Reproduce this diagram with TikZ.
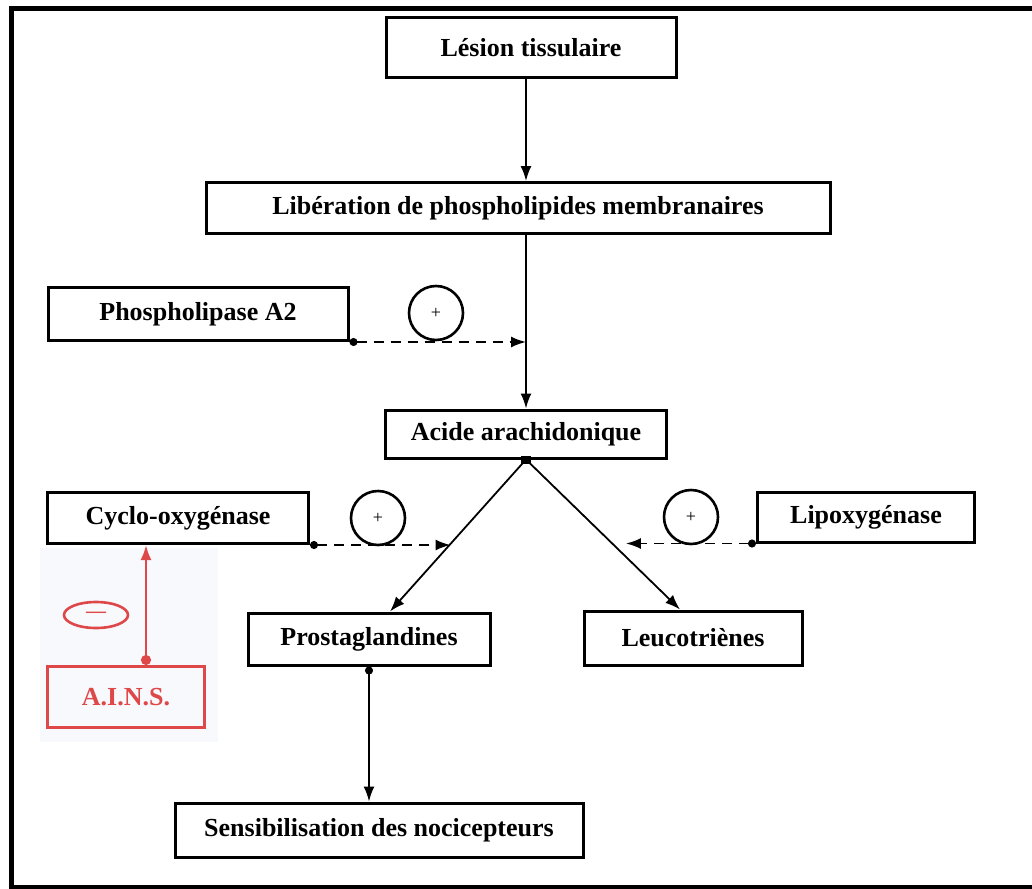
\documentclass[tikz,border=0pt]{standalone}
\usepackage{fontspec}
\setmainfont{Liberation Serif}
\usetikzlibrary{arrows.meta,shapes.geometric,calc}

\definecolor{rouge}{RGB}{222,72,72}
\definecolor{fondbleu}{RGB}{247,249,253}

\begin{document}
\begin{tikzpicture}[x=0.5pt,y=-0.5pt,
  >={Latex[length=7.5pt,width=5.5pt]},
  boite/.style={draw,line width=1.5pt,inner sep=0pt,font=\fontsize{13}{15}\selectfont\bfseries},
  plus/.style={circle,draw,line width=1.3pt,minimum size=27pt,inner sep=0pt,font=\small},
  fleche/.style={line width=0.9pt},
  pointille/.style={line width=0.9pt,dash pattern=on 5pt off 3.5pt}]
  \useasboundingbox (0,0) rectangle (1032,888);
  % Cadre
  \fill[fondbleu] (40,548) rectangle (218,742);
  \draw[line width=2.5pt] (11,9) rectangle (1045,887);
  % Boites
  \node[boite,minimum width=145pt,minimum height=30pt] (lesion) at (531,48) {Lésion tissulaire};
  \node[boite,minimum width=312pt,minimum height=25.5pt] (liberation) at (518,208) {Libération de phospholipides membranaires};
  \node[boite,minimum width=150pt,minimum height=26.5pt] (pla) at (198,314) {Phospholipase A2};
  \node[boite,minimum width=140.5pt,minimum height=24pt] (acide) at (526,434) {Acide arachidonique};
  \node[boite,minimum width=130.5pt,minimum height=25.5pt] (cox) at (178,518) {Cyclo-oxygénase};
  \node[boite,minimum width=108.5pt,minimum height=25pt] (lox) at (866,517) {Lipoxygénase};
  \node[boite,minimum width=121pt,minimum height=26pt] (prosta) at (369,639) {Prostaglandines};
  \node[boite,minimum width=109pt,minimum height=27pt] (leuco) at (693,638) {Leucotriènes};
  \node[boite,minimum width=204pt,minimum height=27pt] (sensib) at (379,830) {Sensibilisation des nocicepteurs};
  \node[boite,draw=rouge,text=rouge,minimum width=78.5pt,minimum height=30.5pt] (ains) at (126,697) {A.I.N.S.};
  % Cercles
  \foreach \nom/\x/\y in {plusa/436/313, plusb/378/518, plusc/691/517}
    \node[plus] (\nom) at (\x,\y) {+};
  \node[ellipse,draw=rouge,line width=1.3pt,minimum width=32pt,minimum height=13pt,inner sep=0pt,
        text=rouge,font=\fontsize{10}{10}\selectfont\bfseries] (moins) at (96,615) {---};
  % Axe central
  \draw[fleche,->] (lesion.south -| acide) -- (liberation.north -| acide);
  \draw[fleche,->] (liberation.south -| acide) -- (acide.north);
  \draw[pointille,{Circle[length=4pt]}->] (pla.south east) -- (pla.south east -| acide);
  % Branches
  \fill ([xshift=-2.5pt,yshift=-2pt]acide.south) rectangle ([xshift=2.5pt,yshift=2pt]acide.south);
  \coordinate (pbout) at ([xshift=10.5pt]prosta.north);
  \coordinate (lbout) at ([xshift=-6.5pt]leuco.north);
  \draw[fleche,->] (acide.south) -- (pbout);
  \draw[fleche,->] (acide.south) -- (lbout);
  \coordinate (cpoint) at ($(acide.south)!0.555!(pbout)$);
  \coordinate (lpoint) at ($(acide.south)!0.545!(lbout)+(16,0)$);
  \draw[pointille,{Circle[length=4pt]}->] (cox.south east) -- (cox.south east -| cpoint);
  \draw[pointille,{Circle[length=4pt]}->] (lox.south west) -- (lox.south west -| lpoint);
  \draw[fleche,{Circle[length=4pt]}->] (prosta.south) -- (sensib.north -| prosta);
  % Inhibition
  \coordinate (adepart) at ([xshift=10pt]ains.north);
  \draw[fleche,rouge,line width=1.2pt,{Circle[length=5pt]}->] (adepart) -- (adepart |- cox.south);
\end{tikzpicture}
\end{document}
